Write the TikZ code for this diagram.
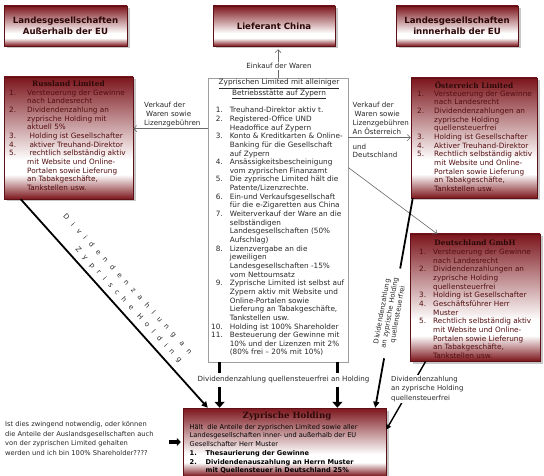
\documentclass[tikz,border=0pt]{standalone}
\usepackage{fontspec}
\setmainfont{DejaVu Sans}
\newfontfamily\titlefont{DejaVu Serif}
\usetikzlibrary{shadows,arrows.meta}
\definecolor{bred}{RGB}{124,22,28}
\definecolor{btxt}{RGB}{84,14,16}
\definecolor{bttl}{RGB}{45,8,8}
\definecolor{agray}{RGB}{105,105,105}
\definecolor{tgray}{RGB}{40,40,40}
\pgfdeclareverticalshading{redgrad}{100bp}{color(0bp)=(bred); color(25bp)=(bred); color(35bp)=(white); color(41bp)=(white); color(75bp)=(bred); color(100bp)=(bred)}
\newcommand{\lsz}{\fontsize{7.3}{8.65}\selectfont}
\newcommand{\labsz}{\fontsize{7.1}{9}\selectfont}
\newcommand{\hsz}{\fontsize{6.6}{8.7}\selectfont}
\newcommand{\txl}[1]{\begin{tabular}{@{}l@{}}#1\end{tabular}}
\tikzset{
  redbox/.style={draw=bred!75!black, line width=0.5pt, shading=redgrad, inner sep=0pt,
     drop shadow={shadow xshift=2.5pt, shadow yshift=-2.5pt, opacity=0.22, fill=black}},
  topttl/.style={font=\fontsize{8.6}{11.5}\selectfont\bfseries, text=bttl, align=center},
  boxttl/.style={font=\titlefont\fontsize{7.4}{9}\selectfont\bfseries, text=bttl, inner sep=0pt},
  lst/.style={font=\lsz, text=btxt, inner sep=0pt, anchor=north west},
  lbl/.style={font=\labsz, text=tgray, inner sep=0pt, anchor=north west},
  thinarr/.style={draw=agray, line width=0.6pt, -{Straight Barb[length=3pt,width=6pt]}},
  fatarr/.style={draw=black, line width=3.6pt, -{Triangle[length=6pt,width=10pt]}},
  diagarr/.style={draw=black, line width=1.8pt, -{Triangle[length=6pt,width=6pt]}},
  medarr/.style={draw=black, line width=1.4pt, -{Triangle[length=5pt,width=5pt]}},
}
\begin{document}
\begin{tikzpicture}[x=1pt,y=-1pt]
\useasboundingbox (0,0) rectangle (544,476);
\fill[white] (0,0) rectangle (544,476);

% top boxes
\node[redbox, topttl, minimum width=123pt, minimum height=40pt] (outeu) at (65.5,26) {Landesgesellschaften\\Außerhalb der EU};
\node[redbox, topttl, minimum width=122pt, minimum height=40pt] (china) at (274,26) {Lieferant China};
\node[redbox, topttl, minimum width=122pt, minimum height=40pt] (ineu) at (457,26) {Landesgesellschaften\\innnerhalb der EU};

% Russland
\node[redbox, minimum width=129pt, minimum height=122pt] (rus) at (68.5,138) {};
\node[boxttl] (rusT) at (68.5,84) {Russland Limited};
\node[lst] (rusL) at (9,89) {\begin{tabular}{@{}p{18pt}@{}l@{}}
1. & Versteuerung der Gewinne\\
 & nach Landesrecht\\
2. & Dividendenzahlung an\\
 & zyprische Holding mit\\
 & aktuell 5\%\\
3. & \ Holding ist Gesellschafter\\
4. & \ aktiver Treuhand-Direktor\\
5. & \ rechtlich selbständig aktiv\\
 & mit Website und Online-\\
 & Portalen sowie Lieferung\\
 & an Tabakgeschäfte,\\
 & Tankstellen usw.
\end{tabular}};

% Zypern Limited
\node[draw=gray!75, line width=0.8pt, fill=white, minimum width=140pt, minimum height=284pt, inner sep=0pt] (zl) at (278,220) {};
\node[font=\lsz, text=tgray, align=center, inner sep=0pt] (zlT) at (279,89) {\underline{Zyprischen Limited mit alleiniger}\\\underline{Betriebsstätte auf Zypern}};
\node[lst, text=tgray] (zlL) at (211,106.5) {\begin{tabular}{@{}r@{\hspace{7pt}}l@{}}
1. & Treuhand-Direktor aktiv t.\\
2. & Registered-Office UND\\
 & Headoffice auf Zypern\\
3. & Konto \& Kreditkarten \& Online-\\
 & Banking für die Gesellschaft\\
 & auf Zypern\\
4. & Ansässigkeitsbescheinigung\\
 & vom zyprischen Finanzamt\\
5. & Die zyprische Limited hält die\\
 & Patente/Lizenzrechte.\\
6. & Ein-und Verkaufsgesellschaft\\
 & für die e-Zigaretten aus China\\
7. & Weiterverkauf der Ware an die\\
 & selbständigen\\
 & Landesgesellschaften (50\%\\
 & Aufschlag)\\
8. & Lizenzvergabe an die\\
 & jeweiligen\\
 & Landesgesellschaften -15\%\\
 & vom Nettoumsatz\\
9. & Zyprische Limited ist selbst auf\\
 & Zypern aktiv mit Website und\\
 & Online-Portalen sowie\\
 & Lieferung an Tabakgeschäfte,\\
 & Tankstellen usw.\\
10. & Holding ist 100\% Shareholder\\
11. & Besteuerung der Gewinne mit\\
 & 10\% und der Lizenzen mit 2\%\\
 & (80\% frei – 20\% mit 10\%)
\end{tabular}};

% Oesterreich
\node[redbox, minimum width=126pt, minimum height=120pt] (oest) at (474,138) {};
\node[boxttl] (oestT) at (474,85) {Österreich Limited};
\node[lst] (oestL) at (417,90) {\begin{tabular}{@{}p{17pt}@{}l@{}}
1. & Versteuerung der Gewinne\\
 & nach Landesrecht\\
2. & Dividendenzahlungen an\\
 & zyprische Holding\\
 & quellensteuerfrei\\
3. & Holding ist Gesellschafter\\
4. & Aktiver Treuhand-Direktor\\
5. & Rechtlich selbständig aktiv\\
 & mit Website und Online-\\
 & Portalen sowie Lieferung\\
 & an Tabakgeschäfte,\\
 & Tankstellen usw.
\end{tabular}};

% Deutschland
\node[redbox, minimum width=130pt, minimum height=127pt] (deut) at (475,297.5) {};
\node[boxttl] (deutT) at (475,243) {Deutschland GmbH};
\node[lst] (deutL) at (419,248.3) {\begin{tabular}{@{}p{14pt}@{}l@{}}
1. & Versteuerung der Gewinne\\
 & nach Landesrecht\\
2. & Dividendenzahlungen an\\
 & zyprische Holding\\
 & quellensteuerfrei\\
3. & Holding ist Gesellschafter\\
4. & Geschäftsführer Herr\\
 & Muster\\
5. & Rechtlich selbständig aktiv\\
 & mit Website und Online-\\
 & Portalen sowie Lieferung\\
 & an Tabakgeschäfte,\\
 & Tankstellen usw.
\end{tabular}};

% Holding
\node[redbox, minimum width=203pt, minimum height=68pt] (hold) at (284.5,442) {};
\node[font=\titlefont\fontsize{8.6}{10}\selectfont\bfseries, text=bttl, inner sep=0pt] (holdT) at (287,416.5) {Zyprische Holding};
\node[font=\hsz, text=black, inner sep=0pt, anchor=north west] (holdL) at (189.5,423) {\begin{tabular}{@{}p{16pt}@{}l@{}}
\multicolumn{2}{@{}l@{}}{Hält~ die Anteile der zyprischen Limited sowie aller}\\
\multicolumn{2}{@{}l@{}}{Landesgesellschaften inner- und außerhalb der EU}\\
\multicolumn{2}{@{}l@{}}{Gesellschafter Herr Muster}\\
\textbf{1.} & \textbf{Thesaurierung der Gewinne}\\
\textbf{2.} & \textbf{Dividendenauszahlung an Herrn Muster}\\
 & \textbf{mit Quellensteuer in Deutschland 25\%}
\end{tabular}};

% question
\node[font=\fontsize{6.7}{9.6}\selectfont, text=tgray, inner sep=0pt, anchor=north west] (quest) at (5,419.8) {\txl{Ist dies zwingend notwendig, oder können\\die Anteile der Auslandsgesellschaften auch\\von der zyprischen Limited gehalten\\werden und ich bin 100\% Shareholder????}};

% connectors
\draw[thinarr, shorten >=3pt] (zl.north) -- (zl.north |- china.south);
\draw[thinarr] ([yshift=-51pt]zl.north west) -- ([yshift=-51pt]zl.north west -| rus.east);
\draw[thinarr] ([yshift=-60pt]zl.north east) -- ([yshift=-60pt]zl.north east -| oest.west);
\draw[thinarr] ([yshift=-90pt]zl.north east) -- ([xshift=-38pt]deut.north);
\draw[fatarr] ([xshift=12pt]zl.south west) -- ([xshift=12pt]zl.south west |- hold.north);
\draw[fatarr] ([xshift=-11pt]zl.south east) -- ([xshift=-11pt]zl.south east |- hold.north);
\draw[diagarr] ([xshift=17pt]rus.south west) -- ([xshift=25pt]hold.north west);
\draw[diagarr] ([xshift=2pt]oest.south west) -- ([xshift=-11pt]hold.north east);
\draw[medarr] ([xshift=16pt]deut.south west) -- ([yshift=-22pt]hold.north east);
\draw[line width=3.4pt, -{Triangle[length=4pt,width=8pt]}] ([xshift=-14pt]hold.west) -- ([xshift=-2pt]hold.west);

% labels
\node[font=\labsz, text=tgray, fill=white, inner sep=1pt] (einkauf) at (279,66) {Einkauf der Waren};
\node[lbl] (vkl) at (144,101.2) {\txl{Verkauf der\\\hspace{2pt}Waren sowie\\Lizenzgebühren}};
\node[lbl] (vkr) at (352.5,101.2) {\txl{Verkauf der\\\hspace{2pt}Waren sowie\\Lizenzgebühren\\An Österreich}};
\node[lbl] (vkr2) at (352.5,142.5) {\txl{und\\Deutschland}};
\node[font=\labsz, text=tgray, fill=white, inner xsep=2pt, inner ysep=4pt] (divlab) at (283.5,380) {Dividendenzahlung quellensteuerfrei an Holding};
\node[font=\fontsize{6.9}{9.2}\selectfont, text=tgray, fill=white, inner sep=0pt, anchor=north west] (dlab) at (391,375) {\txl{Dividendenzahlung\\an zyprische Holding\\quellensteuerfrei}};
\node[font=\fontsize{6.8}{8}\selectfont, text=tgray, fill=white, align=center, inner xsep=10pt, inner ysep=1pt, rotate=79.7] (olab) at (390,313) {Dividendenzahlung\\an zyprische Holding\\quellensteuerfrei};
\node[font=\fontsize{7}{8}\selectfont\addfontfeature{LetterSpace=86}, text=tgray, inner sep=0pt, rotate=-47.5] (rlab1) at (127.5,284.5) {Dividendenzahlung an};
\node[font=\fontsize{7}{8}\selectfont\addfontfeature{LetterSpace=86}, text=tgray, inner sep=0pt, rotate=-47.5] (rlab2) at (128.5,305) {Zyprische Holding};
\end{tikzpicture}
\end{document}
